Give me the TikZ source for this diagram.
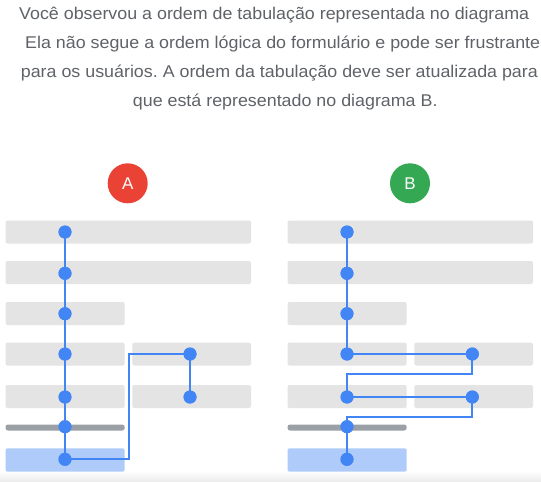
\documentclass[tikz,border=0pt]{standalone}
\usepackage{fontspec}
\setmainfont{Liberation Sans}
\newfontfamily\parafont[FakeStretch=1.05]{Liberation Sans}
\definecolor{txtgray}{HTML}{5F6368}
\definecolor{rowgray}{HTML}{E4E4E4}
\definecolor{bargray}{HTML}{9AA0A6}
\definecolor{focusblue}{HTML}{AECBFA}
\definecolor{lineblue}{HTML}{4285F4}
\definecolor{badgered}{HTML}{EA4335}
\definecolor{badgegreen}{HTML}{34A853}
\tikzset{
  para/.style={anchor=base west, inner sep=0pt, text=txtgray, font=\parafont\frenchspacing\fontsize{17}{20}\selectfont},
  badge/.style={circle, minimum size=40pt, inner sep=0pt, text=white, font=\fontsize{17}{20}\selectfont},
  rowbox/.style={fill=rowgray, rounded corners=2pt},
  darkbar/.style={fill=bargray, rounded corners=2.5pt},
  bluebox/.style={fill=focusblue, rounded corners=2pt},
  tabdot/.style={circle, fill=lineblue, minimum size=13pt, inner sep=0pt},
  tabline/.style={draw=lineblue, line width=2pt},
}
\begin{document}
\begin{tikzpicture}[x=1pt,y=-1pt]
\useasboundingbox (0,0) rectangle (541,482);
\fill[white] (0,0) rectangle (541,482);
\shade[top color=white, bottom color=black!8] (0,471) rectangle (541,482);
\node[para] (l1) at (19,19.3) {Você observou a ordem de tabulação representada no diagrama};
\node[para] (l2) at (25,48.3) {Ela não segue a ordem lógica do formulário e pode ser frustrante};
\node[para] (l3) at (20.7,77.5) {para os usuários. A ordem da tabulação deve ser atualizada para};
\node[para] (l4) at (132.7,106.5) {que está representado no diagrama B.};
% ---------- Diagram A ----------
\node[badge, fill=badgered] (ba) at (127.7,183.3) {A};
\fill[rowbox] (5.5,220.5) rectangle (251,243.5);
\fill[rowbox] (5.5,261) rectangle (251,284);
\fill[rowbox] (5.5,302) rectangle (124.7,325);
\fill[rowbox] (5.5,342.7) rectangle (124.7,365.5);
\fill[rowbox] (132.3,342.7) rectangle (251,365.5);
\fill[rowbox] (5.5,385) rectangle (124.7,408);
\fill[rowbox] (132.3,385) rectangle (251,408);
\fill[darkbar] (5.5,424.5) rectangle (124.7,430.5);
\fill[bluebox] (5.5,448.3) rectangle (124.7,471.7);
\node[tabdot] (a1) at (65,232) {};
\node[tabdot] (a2) at (65,273.3) {};
\node[tabdot] (a3) at (65,313.7) {};
\node[tabdot] (a4) at (65,354) {};
\node[tabdot] (a5) at (65,397) {};
\node[tabdot] (a6) at (65,426.7) {};
\node[tabdot] (a7) at (65,459.3) {};
\node[tabdot] (a8) at (190,354) {};
\node[tabdot] (a9) at (190,397) {};
\coordinate (ajog) at (128.7,0);
\draw[tabline] (a1.center) -- (a2.center) -- (a3.center) -- (a4.center) -- (a5.center) -- (a6.center) -- (a7.center)
  -- (ajog |- a7.center) -- (ajog |- a8.center) -- (a8.center) -- (a9.center);
\foreach \n in {a1,a2,a3,a4,a5,a6,a7,a8,a9} \node[tabdot] at (\n) {};
% ---------- Diagram B ----------
\node[badge, fill=badgegreen] (bb) at (410,183.3) {B};
\fill[rowbox] (287.5,220.5) rectangle (533,243.5);
\fill[rowbox] (287.5,261) rectangle (533,284);
\fill[rowbox] (287.5,302) rectangle (406.7,325);
\fill[rowbox] (287.5,342.7) rectangle (406.7,365.5);
\fill[rowbox] (414.3,342.7) rectangle (533,365.5);
\fill[rowbox] (287.5,385) rectangle (406.7,408);
\fill[rowbox] (414.3,385) rectangle (533,408);
\fill[darkbar] (287.5,424.5) rectangle (406.7,430.5);
\fill[bluebox] (287.5,448.3) rectangle (406.7,471.7);
\node[tabdot] (b1) at (347,232) {};
\node[tabdot] (b2) at (347,273.3) {};
\node[tabdot] (b3) at (347,313.7) {};
\node[tabdot] (b4) at (347,354) {};
\node[tabdot] (b5) at (472.3,354) {};
\node[tabdot] (b6) at (347,397) {};
\node[tabdot] (b7) at (472.3,397) {};
\node[tabdot] (b8) at (347,426.7) {};
\node[tabdot] (b9) at (347,459.3) {};
\coordinate (bloop1) at (0,374.3);
\coordinate (bloop2) at (0,416.7);
\draw[tabline] (b1.center) -- (b2.center) -- (b3.center) -- (b4.center) -- (b5.center)
  -- (b5.center |- bloop1) -- (b6.center |- bloop1) -- (b6.center) -- (b7.center)
  -- (b7.center |- bloop2) -- (b8.center |- bloop2) -- (b8.center) -- (b9.center);
\foreach \n in {b1,b2,b3,b4,b5,b6,b7,b8,b9} \node[tabdot] at (\n) {};
\end{tikzpicture}
\end{document}
